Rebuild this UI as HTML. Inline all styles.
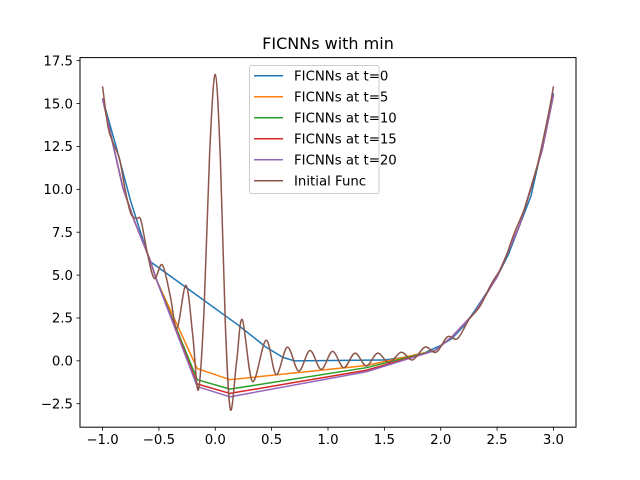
<!DOCTYPE html>
<html><head><meta charset="utf-8"><style>
html,body{margin:0;padding:0;background:#fff;}
svg{display:block;font-family:"DejaVu Sans","Liberation Sans",sans-serif;}
</style></head><body>
<svg id="chart" width="640" height="480" viewBox="0 0 640 480">
<rect width="640" height="480" fill="#fff"/>
<text x="328" y="49" text-anchor="middle" font-size="16" fill="#000">FICNNs with min</text>
<g id="grid"></g>
<g id="series" clip-path="url(#clip)"></g>
<defs><clipPath id="clip"><rect x="80" y="57.6" width="496" height="369.6"/></clipPath></defs>
<rect x="80" y="57.6" width="496" height="369.6" fill="none" stroke="#000" stroke-width="1"/>
<g id="axes"></g>
<g id="legend"></g>
</svg>
<script>
const xTicks = [-1.0, -0.5, 0.0, 0.5, 1.0, 1.5, 2.0, 2.5, 3.0];
const xTickLabels = ["−1.0","−0.5","0.0","0.5","1.0","1.5","2.0","2.5","3.0"];
const yTicks = [-2.5, 0, 2.5, 5, 7.5, 10, 12.5, 15, 17.5];
const yTickLabels = ["−2.5","0.0","2.5","5.0","7.5","10.0","12.5","15.0","17.5"];
const seriesNames = ["FICNNs at t=0","FICNNs at t=5","FICNNs at t=10","FICNNs at t=15","FICNNs at t=20","Initial Func"];
const seriesColors = ["#1f77b4","#ff7f0e","#2ca02c","#d62728","#9467bd","#8c564b"];
const leftX = [-1, -0.82, -0.72, -0.58, -0.52];
const leftY = [15.3, 10.1, 8.2, 5.9, 4.7];
const rightX = [1.95, 2.1, 2.3, 2.5, 2.7, 2.9, 3.0];
const rightY = [0.6, 1.4, 2.8, 4.9, 7.9, 12.3, 15.5];
const t0X = [-1, -0.88, -0.75, -0.58, -0.2, 0.2, 0.45, 0.6, 0.7, 1.5, 1.8, 2.0, 2.1, 2.2, 2.3, 2.4, 2.5, 2.6, 2.7, 2.8, 2.9, 3.0];
const t0Y = [15.3, 12.5, 9.3, 5.8, 4.0, 2.1, 0.8, 0.2, 0.0, 0.05, 0.3, 0.9, 1.3, 2.0, 2.9, 3.9, 4.9, 6.2, 7.9, 9.6, 12.5, 15.6];
const midX = [-0.16, 0.13, 1.34];
const t5Y = [-0.45, -1.1, -0.27];
const t10Y = [-1.1, -1.65, -0.4];
const t15Y = [-1.35, -1.9, -0.55];
const t20Y = [-1.5, -2.1, -0.64];
const initX = [-1,-0.95,-0.9,-0.85,-0.8,-0.75,-0.7,-0.66,-0.6,-0.54,-0.47,-0.4,-0.34,-0.26,-0.2,-0.15,-0.1,-0.05,0,0.045,0.09,0.135,0.19,0.24,0.33,0.45,0.54,0.64,0.74,0.84,0.94,1.04,1.14,1.24,1.34,1.44,1.54,1.65,1.75,1.86,1.96,2.06,2.15,2.25,2.35,2.45,2.55,2.65,2.75,2.85,2.95,3.0];
const initY = [16.0,13.6,12.6,11.8,10.0,8.6,8.3,8.2,6.2,4.8,5.6,3.8,1.9,4.4,1.5,-1.7,2.9,12.1,16.7,11.8,2.0,-2.85,0,2.4,-1.2,1.2,-0.8,0.8,-0.6,0.6,-0.5,0.55,-0.4,0.45,-0.3,0.45,-0.1,0.5,0.05,0.8,0.5,1.4,1.3,2.4,3.2,4.5,5.6,7.4,9.0,11.2,14.2,16.0];

const NS = "http://www.w3.org/2000/svg";
const X0 = 80, X1 = 576, Y0 = 427.2, Y1 = 57.6;
const xMin = -1.2, xMax = 3.2, yMin = -3.87, yMax = 17.68;
function sx(v){ return X0 + (v - xMin) / (xMax - xMin) * (X1 - X0); }
function sy(v){ return Y0 - (v - yMin) / (yMax - yMin) * (Y0 - Y1); }
function mk(tag, attrs, parent){ const e = document.createElementNS(NS, tag); for (const k in attrs) e.setAttribute(k, attrs[k]); parent.appendChild(e); return e; }

const axes = document.getElementById('axes');
xTicks.forEach((t, i) => {
  const l = mk('line', {x1: sx(t), x2: sx(t), y1: Y0, y2: Y0 + 3.5, stroke: '#000', 'stroke-width': 0.8}, axes);
  
  
  const tx = mk('text', {x: sx(t), y: Y0 + 17, 'text-anchor': 'middle', 'font-size': 13.3, fill: '#000'}, axes);
  tx.textContent = xTickLabels[i];
  
  
});
yTicks.forEach((t, i) => {
  const l = mk('line', {x1: X0 - 3.5, x2: X0, y1: sy(t), y2: sy(t), stroke: '#000', 'stroke-width': 0.8}, axes);
  
  
  const tx = mk('text', {x: X0 - 7, y: sy(t) + 4.8, 'text-anchor': 'end', 'font-size': 13.3, fill: '#000'}, axes);
  tx.textContent = yTickLabels[i];
  
  
});

const series = document.getElementById('series');
function linePath(xs, ys){ return xs.map((x, i) => (i ? 'L' : 'M') + sx(x).toFixed(2) + ',' + sy(ys[i]).toFixed(2)).join(''); }
function smoothPath(xs, ys){
  const p = xs.map((x, i) => [sx(x), sy(ys[i])]);
  let d = 'M' + p[0][0] + ',' + p[0][1];
  for (let i = 0; i < p.length - 1; i++) {
    const a = p[Math.max(0, i - 1)], b = p[i], c = p[i + 1], e = p[Math.min(p.length - 1, i + 2)];
    const c1 = [b[0] + (c[0] - a[0]) / 6, b[1] + (c[1] - a[1]) / 6];
    const c2 = [c[0] - (e[0] - b[0]) / 6, c[1] - (e[1] - b[1]) / 6];
    d += 'C' + c1.join(',') + ' ' + c2.join(',') + ' ' + c.join(',');
  }
  return d;
}
const lowSets = [t5Y, t10Y, t15Y, t20Y];
const names = ['line-t0','line-t5','line-t10','line-t15','line-t20','line-initial-func'];
const p0 = mk('path', {d: linePath(t0X, t0Y), fill: 'none', stroke: seriesColors[0], 'stroke-width': 1.5, 'stroke-linejoin': 'round'}, series);


lowSets.forEach((ys, k) => {
  const xs = leftX.concat(midX, rightX);
  const yy = leftY.concat(ys, rightY);
  const p = mk('path', {d: linePath(xs, yy), fill: 'none', stroke: seriesColors[k + 1], 'stroke-width': 1.5, 'stroke-linejoin': 'round'}, series);
  
  
});
const pi = mk('path', {d: smoothPath(initX, initY), fill: 'none', stroke: seriesColors[5], 'stroke-width': 1.5, 'stroke-linejoin': 'round'}, series);



const legend = document.getElementById('legend');
const box = mk('rect', {x: 249.5, y: 65.5, width: 129.5, height: 128, rx: 2, fill: '#fff', 'fill-opacity': 0.8, stroke: '#ccc', 'stroke-width': 1}, legend);


seriesNames.forEach((n, i) => {
  const y = 75.7 + i * 21;
  const l = mk('line', {x1: 254, x2: 283, y1: y, y2: y, stroke: seriesColors[i], 'stroke-width': 1.5}, legend);
  
  
  const t = mk('text', {x: 294, y: y + 4.8, 'font-size': 13.3, fill: '#000'}, legend);
  t.textContent = n;
  
  
});
</script>
</body></html>
